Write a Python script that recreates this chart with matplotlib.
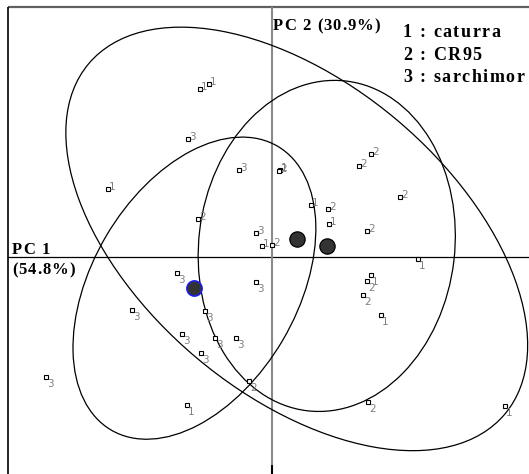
import matplotlib
matplotlib.use("Agg")
import matplotlib.pyplot as plt
from matplotlib.patches import Ellipse
from matplotlib.font_manager import FontProperties, findfont, get_font
import numpy as np

# ---------------- data (PC1, PC2 scores, chart units) ----------------
g1_x = [-72, -63, -164, 39, 57, -10, 146, -85, 99, 109, 233, 8]
g1_y = [168, 173, 68, 52, 33, 11, -2, -148, -18, -58, -149, 87]
g2_x = [-74, 7, 56, 0, 87, 99, 128, 95, -23, 95, 91, 96]
g2_y = [38, 86, 48, 12, 91, 103, 60, 26, -124, -24, -38, -145]
g3_x = [-84, -33, -16, -95, -140, -67, -16, -90, -57, -36, -71, -226]
g3_y = [118, 87, 24, -16, -53, -54, -25, -77, -81, -81, -96, -120]

groups = ["1", "2", "3"]
group_names = ["caturra", "CR95", "sarchimor"]
# ellipse parameters per group: (full width, full height, angle deg)
ellipse_w = [544, 332, 329]
ellipse_h = [311, 256, 205]
ellipse_ang = [-40.1, 83.3, 59.6]

pc1_label = ["PC 1", "(54.8%)"]
pc2_label = "PC 2 (30.9%)"

# ---------------- figure ----------------
W, H, DPI = 529, 474, 100
fig = plt.figure(figsize=(W / DPI, H / DPI), dpi=DPI)
ax = fig.add_axes([0, 0, 1, 1])
ax.set_xlim(-272, 257)
ax.set_ylim(-217, 257)
ax.axis("off")

# frame and axes
ax.plot([-264, 257], [250, 250], color="#606060", lw=1.6, solid_capstyle="butt")
ax.plot([-264, -264], [250.5, -217], color="black", lw=1.2, solid_capstyle="butt")
ax.plot([-264, 257], [0, 0], color="black", lw=0.9)
ax.plot([0, 0], [250, -208], color="#8a8a8a", lw=1.5, solid_capstyle="butt")
ax.plot([0, 0], [-208, -217], color="black", lw=1.5, solid_capstyle="butt")

xs = [g1_x, g2_x, g3_x]
ys = [g1_y, g2_y, g3_y]

# ellipses centred on group means
for i in range(3):
    cx, cy = np.mean(xs[i]), np.mean(ys[i])
    ax.add_patch(Ellipse((cx, cy), ellipse_w[i], ellipse_h[i], angle=ellipse_ang[i],
                         fill=False, edgecolor="black", lw=0.9, zorder=3))

# points with labels
for i in range(3):
    ax.plot(xs[i], ys[i], ls="none", marker="s", ms=3.0, mfc="white",
            mec="black", mew=0.8, zorder=4)
    for x, y in zip(xs[i], ys[i]):
        if y > 0:
            ax.text(x + 1, y - 1, groups[i], ha="left", va="baseline",
                    fontsize=7.5, color="#808080", family="DejaVu Sans", zorder=5)
        else:
            ax.text(x + 1, y - 2, groups[i], ha="left", va="top",
                    fontsize=7.5, color="#808080", family="DejaVu Sans", zorder=5)

# group centroids
edge_cols = ["black", "black", "#1a1aff"]
for i in range(3):
    ax.plot([np.mean(xs[i])], [np.mean(ys[i])], ls="none", marker="o", ms=11,
            mfc="#333333", mec=edge_cols[i], mew=0.9 if i < 2 else 1.1, zorder=6)


# tracked bold serif text
def tracked_text(x, y, s, size, track_px):
    prop = FontProperties(family="Liberation Serif", weight="bold", size=size)
    font = get_font(findfont(prop))
    font.set_size(size, 72)
    trans = ax.transData
    x0, y0 = trans.transform((x, y))
    cur = x0
    for ch in s:
        pt = ax.transData.inverted().transform((cur, y0))
        ax.text(pt[0], pt[1], ch, fontproperties=prop, ha="left", va="baseline",
                color="black", zorder=7)
        g = font.load_char(ord(ch))
        adv = g.linearHoriAdvance / 65536.0 * DPI / 72.0
        cur += adv + track_px


tracked_text(1, 227, pc2_label, 12, 1.0)
leg_y = [220, 197, 175]
for i in range(3):
    tracked_text(131, leg_y[i], f"{groups[i]} : {group_names[i]}", 13, 1.5)
tracked_text(-260, 3, pc1_label[0], 12, 1.0)
tracked_text(-260, -17, pc1_label[1], 12, 1.0)

fig.savefig("out.png", dpi=DPI)
